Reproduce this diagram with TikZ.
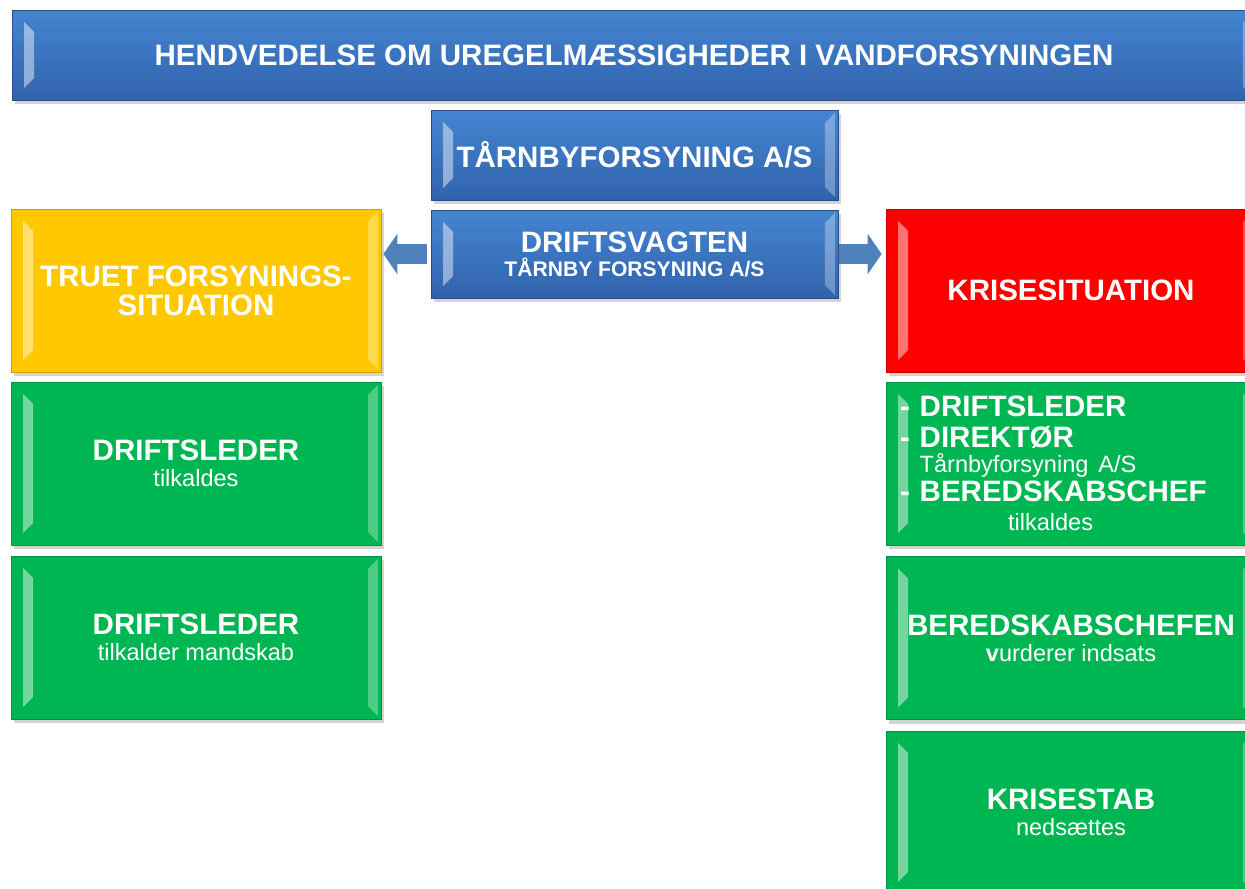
\documentclass[tikz,border=0pt]{standalone}
\usepackage{fontspec}
\setmainfont{Liberation Sans}
\usetikzlibrary{shadows,arrows.meta}

\definecolor{bluetop}{HTML}{4585D2}
\definecolor{bluebot}{HTML}{3163AC}
\definecolor{blueline}{HTML}{2A4F86}
\definecolor{arrowblue}{HTML}{4F81BD}
\definecolor{truetyellow}{HTML}{FFC800}
\definecolor{kriserred}{HTML}{FF0000}
\definecolor{stabgreen}{HTML}{00B652}

\newcommand{\bevelfaces}{%
  \fill[white,opacity=.45]
    ([shift={(12,12)}]path picture bounding box.north west) --
    ([shift={(22,22)}]path picture bounding box.north west) --
    ([shift={(22,-22)}]path picture bounding box.south west) --
    ([shift={(12,-12)}]path picture bounding box.south west) -- cycle;
  \fill[white,opacity=.3]
    ([shift={(-3,3)}]path picture bounding box.north east) --
    ([shift={(-13,13)}]path picture bounding box.north east) --
    ([shift={(-13,-13)}]path picture bounding box.south east) --
    ([shift={(-3,-3)}]path picture bounding box.south east) -- cycle;
}

\newcommand{\sub}[1]{{\mdseries\fontsize{13.4}{15}\selectfont #1}}

\begin{document}
\begin{tikzpicture}[x=0.02cm,y=-0.02cm,
  panel/.style={draw=#1!80!black, line width=0.5pt, fill=#1,
    minimum width=7.4cm, minimum height=3.26cm, inner sep=0pt,
    text=white, align=center,
    font=\bfseries\fontsize{16.8}{16.6}\selectfont,
    drop shadow={shadow xshift=1.5pt, shadow yshift=-2.5pt, opacity=.35},
    path picture={\bevelfaces}},
  bluepanel/.style={panel=bluetop, draw=blueline, top color=bluetop, bottom color=bluebot,
    minimum height=1.8cm},
  fatarrow/.style={draw=arrowblue, line width=0.4cm,
    -{Triangle[length=0.28cm,width=0.8cm]}}]

\clip (0,0) rectangle (1245,889);

\node[bluepanel, minimum width=24.88cm] (banner) at (634,55)
  {HENDVEDELSE OM UREGELMÆSSIGHEDER I VANDFORSYNINGEN};

\node[bluepanel, minimum width=8.14cm] (forsyning) at (634.5,155)
  {TÅRNBYFORSYNING A/S};
\node[bluepanel, minimum width=8.14cm, minimum height=1.76cm] (vagt) at (634.5,254)
  {DRIFTSVAGTEN\\[-3pt]{\fontsize{12}{13}\selectfont TÅRNBY FORSYNING A/S}};

\node[panel=truetyellow] (truet) at (196,290.5) {TRUET FORSYNINGS-\\SITUATION};
\node[panel=kriserred] (krise) at (1071,290.5) {KRISESITUATION};

\node[panel=stabgreen] (leder) at (196,463.5) {DRIFTSLEDER\\[-2pt]\sub{tilkaldes}};
\node[panel=stabgreen] (mandskab) at (196,637.5) {DRIFTSLEDER\\[-2pt]\sub{tilkalder mandskab}};

\node[panel=stabgreen, align=left, text width=6.84cm, inner xsep=0.28cm] (tilkald) at (1071,463.5)
  {- DRIFTSLEDER\\[1pt]
   - DIREKTØR\\[-2.5pt]
   \phantom{- }\sub{Tårnbyforsyning A/S}\\[0pt]
   - BEREDSKABSCHEF\\[0pt]
   \hspace*{2.16cm}\sub{tilkaldes}};
\node[panel=stabgreen] (chef) at (1071,638) {BEREDSKABSCHEFEN\\[-2pt]\sub{{\bfseries v}urderer indsats}};
\node[panel=stabgreen] (stab) at (1071,812.5) {KRISESTAB\\[-2pt]\sub{nedsættes}};

\draw[fatarrow, shorten <=0.08cm, shorten >=0.04cm] (vagt.west) -- (vagt.west -| truet.east);
\draw[fatarrow, shorten <=0.02cm, shorten >=0.08cm] (vagt.east) -- (vagt.east -| krise.west);

\end{tikzpicture}
\end{document}
